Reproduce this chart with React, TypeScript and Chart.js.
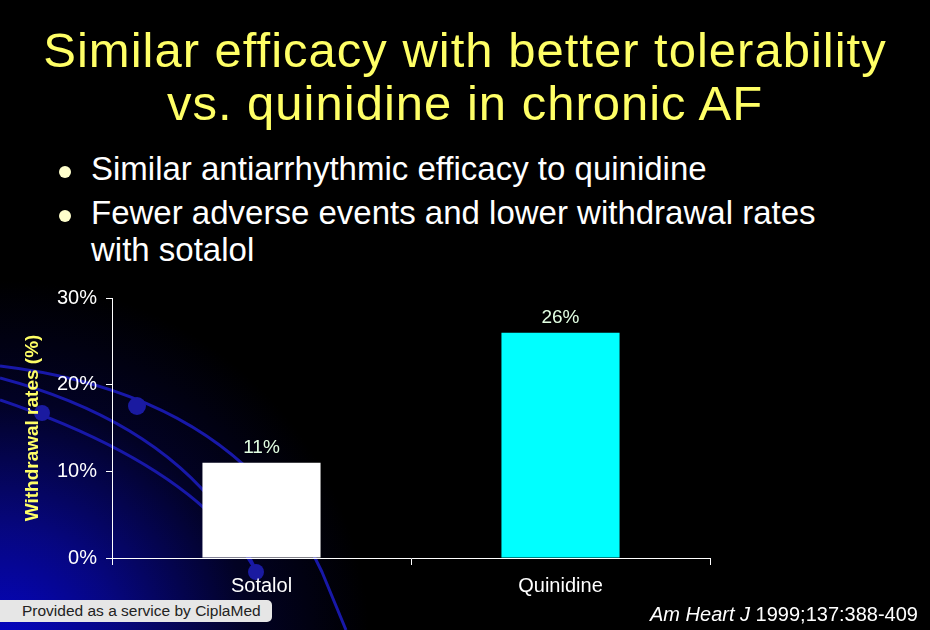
import React, { useEffect, useRef } from "react";
import { Chart, registerables } from "chart.js";

Chart.register(...registerables);

const categories = ["Sotalol", "Quinidine"];
const withdrawalRates = [11, 26];
const barColors = ["#ffffff", "#00ffff"];
const yTicks = [0, 10, 20, 30];

const titleLines = ["Similar efficacy with better tolerability", "vs. quinidine in chronic AF"];
const bullets = [
  ["Similar antiarrhythmic efficacy to quinidine"],
  ["Fewer adverse events and lower withdrawal rates", "with sotalol"],
];

const FONT = "'Liberation Sans', Arial, Helvetica, sans-serif";

const valueLabels = {
  id: "valueLabels",
  afterDatasetsDraw(chart: any) {
    const ctx = chart.ctx;
    const meta = chart.getDatasetMeta(0);
    ctx.save();
    ctx.fillStyle = "#e2ffe2";
    ctx.font = `19px ${FONT}`;
    ctx.textAlign = "center";
    ctx.textBaseline = "alphabetic";
    meta.data.forEach((bar: any, i: number) => {
      ctx.fillText(`${withdrawalRates[i]}%`, bar.x, bar.y - 10);
    });
    ctx.restore();
  },
};

export default function App() {
  const ref = useRef<HTMLCanvasElement | null>(null);

  useEffect(() => {
    if (!ref.current) return;
    const chart = new Chart(ref.current, {
      type: "bar",
      data: {
        labels: categories,
        datasets: [
          {
            data: withdrawalRates,
            backgroundColor: barColors,
            borderWidth: 0,
            categoryPercentage: 1,
            barPercentage: 0.395,
          },
        ],
      },
      options: {
        animation: false,
        responsive: false,
        maintainAspectRatio: false,
        layout: { padding: { top: 298, right: 220, bottom: 32, left: 0 } },
        plugins: { legend: { display: false }, tooltip: { enabled: false } },
        scales: {
          x: {
            grid: {
              display: true,
              drawOnChartArea: false,
              drawTicks: true,
              tickLength: 7,
              color: "#ffffff",
              offset: true,
            },
            border: { display: true, color: "#ffffff", width: 1 },
            ticks: { color: "#ffffff", font: { family: FONT, size: 20 }, padding: 9 },
            afterFit: (s: any) => {
              s.height = 40;
            },
          },
          y: {
            min: 0,
            max: 30,
            afterBuildTicks: (s: any) => {
              s.ticks = yTicks.map((v) => ({ value: v }));
            },
            grid: {
              display: true,
              drawOnChartArea: false,
              drawTicks: true,
              tickLength: 6,
              color: "#ffffff",
            },
            border: { display: true, color: "#ffffff", width: 1 },
            ticks: {
              color: "#ffffff",
              font: { family: FONT, size: 20 },
              padding: 9,
              callback: (v: any) => `${v}%`,
            },
            title: {
              display: true,
              text: "Withdrawal rates (%)",
              color: "#ffff66",
              font: { family: FONT, size: 19, weight: "bold" },
              padding: { top: 21, bottom: 0 },
            },
            afterFit: (s: any) => {
              s.width = 112;
            },
          },
        },
      },
      plugins: [valueLabels],
    });
    return () => chart.destroy();
  }, []);

  return (
    <div
      style={{
        position: "fixed",
        left: 0,
        top: 0,
        width: 930,
        height: 630,
        background: "#000",
        overflow: "hidden",
        fontFamily: FONT,
      }}
    >
      <div
        style={{
          position: "absolute",
          left: 0,
          top: 0,
          width: 930,
          height: 630,
          background:
            "radial-gradient(circle at 0px 650px, rgba(5,5,200,1) 0px, rgba(8,8,160,0.8) 120px, rgba(5,5,90,0.4) 250px, rgba(0,0,0,0) 370px)",
        }}
      />
      <svg width={930} height={630} style={{ position: "absolute", left: 0, top: 0 }}>
        <g fill="none" stroke="#1818a8" strokeWidth={3}>
          <path d="M 0 366 Q 240 395 322 572 L 346 630" />
          <path d="M 0 378 Q 195 430 257 573" />
          <path d="M 0 400 Q 200 468 257 573" />
        </g>
        <g fill="#1a1aa0">
          <circle cx={137} cy={406} r={9} />
          <circle cx={42} cy={413} r={8} />
          <circle cx={256} cy={572} r={8} />
        </g>
      </svg>
      <div
        style={{
          position: "absolute",
          left: 0,
          top: 24,
          width: 930,
          textAlign: "center",
          color: "#ffff66",
          fontSize: 49,
          letterSpacing: "1px",
          lineHeight: "53px",
        }}
      >
        {titleLines.map((t, i) => (
          <div key={i}>{t}</div>
        ))}
      </div>
      <div style={{ position: "absolute", left: 0, top: 150, color: "#ffffff", fontSize: 33 }}>
        {bullets.map((b, i) => (
          <div key={i} style={{ position: "relative", paddingLeft: 91, lineHeight: "37px", marginBottom: 7 }}>
            <span
              style={{
                position: "absolute",
                left: 59,
                top: 16,
                width: 12,
                height: 12,
                borderRadius: 6,
                background: "#ffffcc",
              }}
            />
            {b.map((l, j) => (
              <div key={j} style={{ whiteSpace: "nowrap" }}>{l}</div>
            ))}
          </div>
        ))}
      </div>
      <canvas ref={ref} width={930} height={630} style={{ position: "absolute", left: 0, top: 0, width: 930, height: 630 }} />
      <div
        style={{
          position: "absolute",
          left: 0,
          top: 600,
          width: 272,
          height: 22,
          background: "#e6e6e6",
          borderRadius: "0 5px 5px 0",
          color: "#222",
          fontSize: 15.5,
          lineHeight: "22px",
          paddingLeft: 22,
          boxSizing: "border-box",
          whiteSpace: "nowrap",
        }}
      >
        Provided as a service by CiplaMed
      </div>
      <div
        style={{
          position: "absolute",
          right: 12,
          top: 603,
          color: "#ffffff",
          fontSize: 20,
          lineHeight: "22px",
          whiteSpace: "nowrap",
        }}
      >
        <i>Am Heart J</i> 1999;137:388-409
      </div>
    </div>
  );
}
